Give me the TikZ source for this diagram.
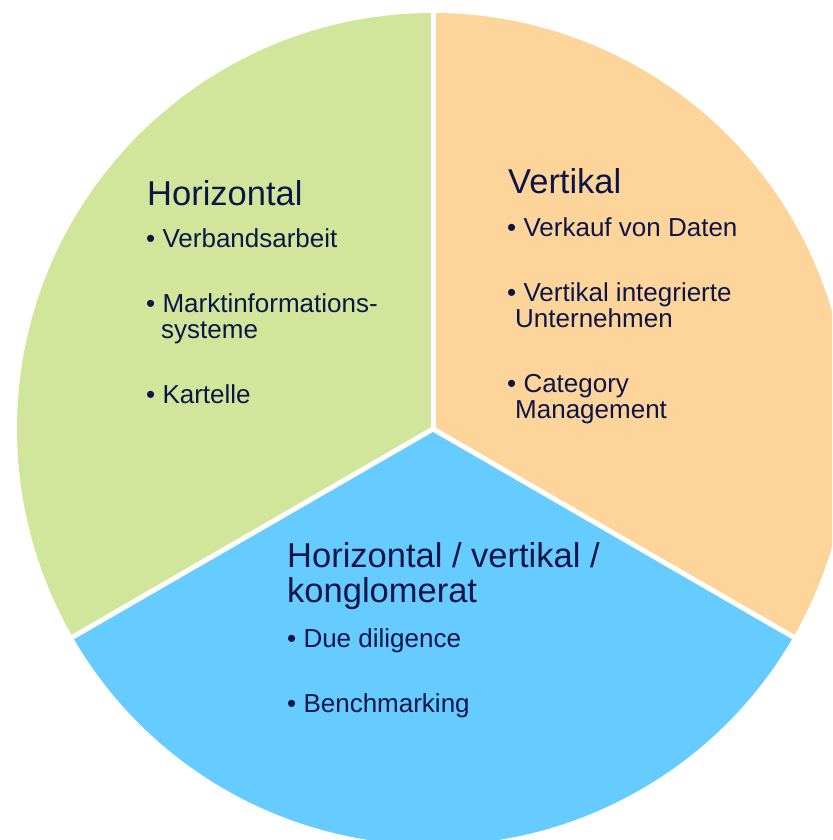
\documentclass[tikz,border=0pt]{standalone}
\usepackage{fontspec}
\setmainfont{Liberation Sans}
\usepackage{xcolor}
\usepackage{tikz}
\definecolor{PIE_GREEN}{HTML}{D1E59B}
\definecolor{PIE_ORANGE}{HTML}{FDD59B}
\definecolor{PIE_BLUE}{HTML}{66CBFF}
\definecolor{PIE_TEXT}{HTML}{0D1547}
\tikzset{
  head/.style={
    anchor=base west, inner sep=0pt, align=left,
    text=PIE_TEXT, font=\fontsize{34.5}{35}\selectfont},
  item/.style={
    anchor=base west, inner sep=0pt, align=left,
    text=PIE_TEXT, font=\fontsize{26}{25.5}\selectfont},
  gap/.style={white, line width=5pt},
}

\begin{document}
\begin{tikzpicture}[x=1pt, y=1pt]

  \useasboundingbox (0,0) rectangle (832,-840);
  \clip (0,0) rectangle (832,-840);

  \coordinate (c) at (433,-429);

  % pie sectors
  \fill[PIE_GREEN]  (c) -- ++(90:416pt)  arc (90:210:416pt)  -- cycle;
  \fill[PIE_BLUE]   (c) -- ++(210:416pt) arc (210:330:416pt) -- cycle;
  \fill[PIE_ORANGE] (c) -- ++(330:416pt) arc (330:450:416pt) -- cycle;

  \draw[gap] (c) -- ++(90:430pt);
  \draw[gap] (c) -- ++(210:430pt);
  \draw[gap] (c) -- ++(330:430pt);

  % horizontal (multi-line nodes sit on their last baseline)
  \node[head] (hor) at (147,-205) {Horizontal};
  \node[item] (hor1) at (146,-247) {\textbullet\ Verbandsarbeit};
  \node[item] (hor2) at (146,-338) {\textbullet\ Marktinformations-\\\hspace{15pt}systeme};
  \node[item] (hor3) at (146,-403) {\textbullet\ Kartelle};

  % vertical
  \node[head] (ver) at (508,-193) {Vertikal};
  \node[item] (ver1) at (507,-236) {\textbullet\ Verkauf von Daten};
  \node[item] (ver2) at (507,-327) {\textbullet\ Vertikal integrierte\\\hspace{8pt}Unternehmen};
  \node[item] (ver3) at (507,-418) {\textbullet\ Category\\\hspace{8pt}Management};

  % conglomerate
  \node[head] (kon) at (287,-602) {Horizontal / vertikal /\\konglomerat};
  \node[item] (kon1) at (287,-647) {\textbullet\ Due diligence};
  \node[item] (kon2) at (287,-712) {\textbullet\ Benchmarking};

\end{tikzpicture}
\end{document}
